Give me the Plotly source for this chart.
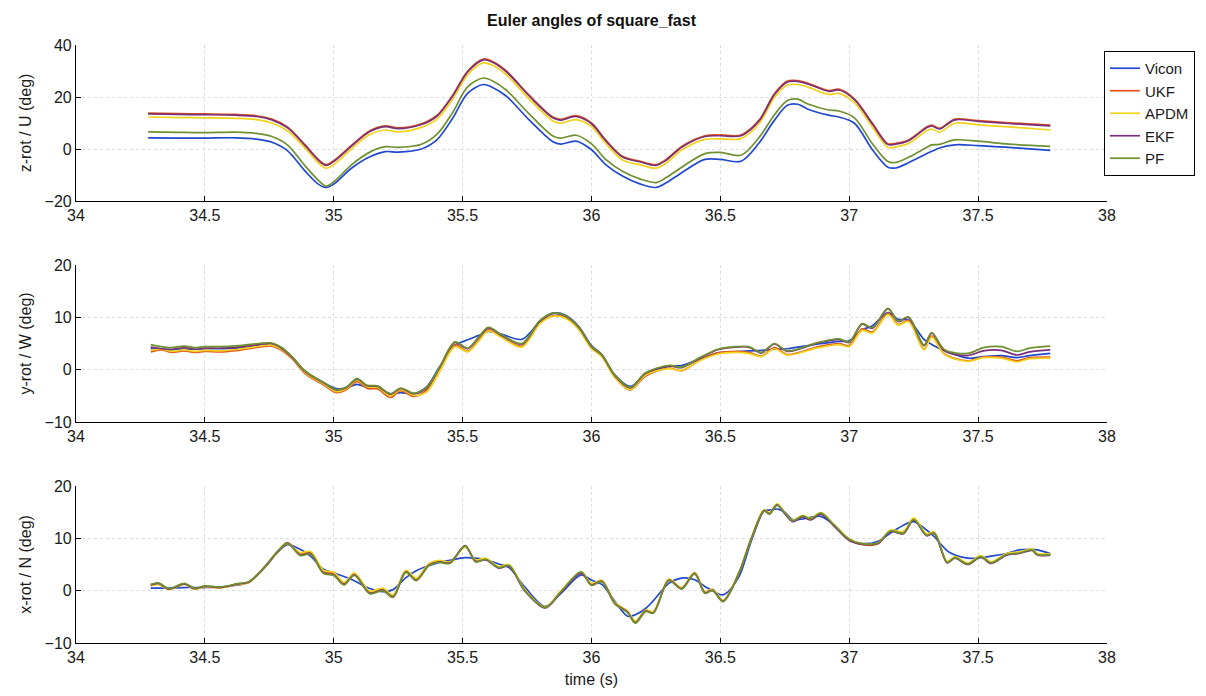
import plotly.graph_objects as go

series_names = ["Vicon", "UKF", "APDM", "EKF", "PF"]
series_colors = ["#2148d0", "#e0561c", "#f2d21a", "#7b2f78", "#6f9030"]

# ---------- top panel: z-rot / U ----------
t_z = [34.28, 34.40, 34.50, 34.62, 34.70, 34.76, 34.82, 34.89, 34.94, 34.97, 35.00, 35.07,
       35.14, 35.20, 35.25, 35.34, 35.40, 35.46, 35.52, 35.58, 35.62, 35.67, 35.76, 35.85,
       35.88, 35.94, 36.00, 36.055, 36.12, 36.19, 36.25, 36.29, 36.35, 36.44, 36.50, 36.58,
       36.65, 36.71, 36.76, 36.80, 36.84, 36.92, 36.96, 37.02, 37.09, 37.15, 37.18, 37.23,
       37.30, 37.32, 37.35, 37.41, 37.50, 37.62, 37.78]
z_vicon = [4.3, 4.2, 4.2, 4.3, 3.8, 2.6, -0.6, -8.6, -13.5, -14.8, -13.5, -7.3,
           -3.0, -1.0, -1.2, 0.0, 3.5, 11.6, 21.5, 24.8, 23.5, 20.3, 11.0, 2.8,
           1.9, 3.0, -0.3, -6.0, -10.4, -13.5, -14.8, -13.0, -9.1, -4.0, -4.0, -4.7,
           2.3, 11.1, 16.8, 17.2, 15.3, 13.0, 12.3, 9.9, -0.3, -7.0, -7.3, -5.3,
           -1.8, -0.9, 0.4, 1.6, 1.3, 0.6, -0.5]
z_ukf = [13.8, 13.6, 13.5, 13.3, 12.8, 11.5, 8.5, 1.5, -4.0, -6.0, -4.5, 1.5,
         7.0, 8.9, 8.1, 9.7, 12.9, 20.5, 30.0, 34.6, 33.5, 30.0, 20.5, 12.3,
         11.4, 12.8, 10.0, 3.5, -2.8, -4.7, -6.0, -4.0, 1.0, 5.1, 5.4, 5.4,
         11.1, 21.3, 26.1, 26.3, 25.3, 22.5, 23.0, 19.3, 9.9, 2.0, 2.2, 3.5,
         8.5, 9.2, 8.0, 11.5, 10.9, 10.1, 9.2]
z_apdm = [12.3, 12.1, 12.0, 11.8, 11.3, 10.0, 7.0, 0.2, -5.3, -7.4, -6.0, 0.2,
          5.6, 7.3, 6.6, 8.3, 11.5, 19.0, 28.6, 33.1, 32.0, 28.5, 19.0, 10.8,
          9.9, 11.3, 8.6, 2.1, -4.2, -6.1, -7.4, -5.4, -0.4, 3.7, 3.9, 4.0,
          9.7, 19.8, 24.6, 24.8, 23.8, 21.0, 21.4, 17.8, 8.4, 0.6, 0.8, 2.1,
          7.0, 7.7, 6.5, 9.9, 9.3, 8.5, 7.3]
z_ekf = [13.5, 13.3, 13.2, 13.0, 12.5, 11.2, 8.2, 1.2, -4.3, -6.3, -4.8, 1.2,
         6.7, 8.6, 7.8, 9.4, 12.6, 20.2, 29.7, 34.3, 33.2, 29.7, 20.2, 12.0,
         11.1, 12.5, 9.7, 3.2, -3.1, -5.0, -6.3, -4.3, 0.7, 4.8, 5.1, 5.1,
         10.8, 21.0, 25.8, 26.0, 25.0, 22.2, 22.7, 19.0, 9.6, 1.7, 1.9, 3.2,
         8.2, 8.9, 7.7, 11.2, 10.6, 9.8, 8.9]
z_pf = [6.6, 6.4, 6.3, 6.5, 6.0, 4.8, 1.6, -6.6, -12.0, -14.3, -12.6, -6.0,
        -1.2, 0.9, 0.6, 1.8, 5.6, 13.8, 24.0, 27.3, 26.0, 22.6, 13.3, 5.0,
        4.2, 5.3, 2.0, -4.0, -8.6, -11.6, -12.9, -11.0, -7.0, -1.8, -1.3, -2.4,
        4.4, 13.2, 18.7, 19.2, 17.3, 15.0, 14.6, 12.0, 2.0, -4.8, -5.2, -3.2,
        0.6, 1.6, 1.8, 3.5, 3.0, 1.9, 1.0]

# ---------- middle panel: y-rot / W ----------
t_w = [34.29, 34.33, 34.37, 34.42, 34.46, 34.50, 34.56, 34.63, 34.71, 34.76, 34.80, 34.84,
       34.89, 34.96, 35.01, 35.05, 35.09, 35.13, 35.17, 35.22, 35.26, 35.31, 35.36, 35.41,
       35.47, 35.52, 35.56, 35.60, 35.65, 35.73, 35.80, 35.85, 35.90, 35.95, 36.00, 36.04,
       36.09, 36.15, 36.21, 36.30, 36.35, 36.42, 36.49, 36.56, 36.61, 36.66, 36.71, 36.76,
       36.88, 36.96, 37.00, 37.05, 37.09, 37.15, 37.19, 37.23, 37.29, 37.32, 37.37, 37.46,
       37.52, 37.59, 37.65, 37.70, 37.78]
w_vicon = [4.0, 3.9, 3.8, 3.9, 3.9, 4.0, 4.0, 4.1, 4.6, 4.8, 3.9, 2.2,
           -0.5, -2.5, -3.6, -3.5, -2.8, -3.4, -3.5, -4.6, -4.4, -4.6, -3.3, 0.5,
           4.6, 5.7, 6.5, 7.3, 6.8, 5.8, 9.2, 10.8, 10.4, 8.3, 4.6, 2.9,
           -1.0, -3.2, -1.0, 0.6, 0.8, 2.0, 3.2, 3.4, 3.6, 3.7, 3.9, 4.0,
           4.9, 5.4, 5.5, 7.6, 8.4, 10.9, 9.6, 9.5, 5.8, 4.8, 3.6, 2.2,
           2.5, 2.7, 2.3, 2.7, 3.1]
w_ukf = [3.4, 3.8, 3.3, 3.6, 3.3, 3.5, 3.4, 3.7, 4.3, 4.5, 3.6, 2.0,
         -0.8, -2.9, -4.4, -3.8, -2.3, -3.6, -3.7, -5.3, -4.0, -5.1, -3.9, 0.2,
         4.8, 3.5, 5.5, 7.6, 6.3, 4.5, 8.9, 10.3, 9.9, 7.9, 4.2, 2.6,
         -1.4, -3.9, -1.2, 0.3, -0.2, 1.8, 3.2, 3.5, 3.3, 2.6, 4.2, 2.9,
         4.4, 5.0, 4.6, 7.8, 7.2, 10.8, 8.6, 9.4, 3.9, 6.4, 3.0, 1.7,
         2.4, 2.4, 1.7, 2.3, 2.4]
w_apdm = [3.7, 3.9, 3.5, 3.8, 3.5, 3.7, 3.6, 3.9, 4.5, 4.7, 3.8, 2.2,
          -0.6, -2.7, -4.2, -3.6, -2.0, -3.3, -3.4, -5.0, -3.8, -4.9, -4.3, -0.5,
          4.4, 3.4, 5.3, 7.4, 6.2, 4.3, 8.8, 10.2, 9.8, 7.7, 4.0, 2.5,
          -1.5, -3.8, -1.0, 0.2, -0.1, 1.7, 3.0, 3.3, 3.1, 2.5, 4.0, 2.8,
          4.2, 4.8, 4.4, 7.5, 7.0, 10.5, 8.5, 9.2, 3.8, 6.2, 2.9, 1.6,
          2.3, 2.2, 1.5, 2.1, 2.2]
w_ekf = [4.3, 4.0, 3.9, 4.2, 3.9, 4.1, 4.1, 4.3, 4.8, 5.0, 4.0, 2.3,
         -0.4, -2.5, -3.9, -3.4, -1.8, -3.1, -3.2, -4.7, -3.6, -4.6, -3.5, 0.3,
         5.2, 4.0, 6.0, 8.0, 6.6, 4.9, 9.3, 10.7, 10.2, 8.1, 4.4, 2.8,
         -1.1, -3.5, -0.7, 0.7, 0.4, 2.2, 3.8, 4.3, 4.3, 3.2, 4.9, 3.5,
         5.1, 5.8, 5.2, 8.7, 7.9, 11.6, 9.2, 10.0, 4.6, 7.0, 3.6, 2.7,
         3.6, 3.7, 2.8, 3.4, 3.8]
w_pf = [4.8, 4.4, 4.2, 4.5, 4.2, 4.4, 4.4, 4.6, 5.0, 5.1, 4.2, 2.4,
        -0.3, -2.4, -3.8, -3.3, -1.7, -3.0, -3.1, -4.6, -3.5, -4.5, -3.4, 0.4,
        5.3, 4.1, 6.1, 8.1, 6.7, 5.0, 9.4, 10.8, 10.3, 8.2, 4.5, 2.9,
        -1.0, -3.4, -0.6, 0.8, 0.5, 2.3, 3.9, 4.4, 4.4, 3.3, 5.0, 3.6,
        5.2, 5.9, 5.3, 8.8, 8.0, 11.7, 9.3, 10.1, 4.7, 7.1, 3.8, 3.1,
        4.2, 4.4, 3.5, 4.1, 4.5]

# ---------- bottom panel: x-rot / N ----------
t_n = [34.29, 34.32, 34.36, 34.42, 34.46, 34.50, 34.56, 34.63, 34.67, 34.73, 34.78, 34.82,
       34.87, 34.91, 34.96, 35.00, 35.04, 35.08, 35.14, 35.19, 35.23, 35.28, 35.32, 35.37,
       35.41, 35.45, 35.51, 35.55, 35.59, 35.64, 35.68, 35.74, 35.82, 35.88, 35.96, 36.00,
       36.04, 36.09, 36.14, 36.17, 36.21, 36.24, 36.30, 36.35, 36.40, 36.44, 36.47, 36.51,
       36.57, 36.62, 36.67, 36.69, 36.72, 36.75, 36.78, 36.82, 36.85, 36.89, 36.94, 37.00,
       37.05, 37.11, 37.16, 37.21, 37.25, 37.30, 37.33, 37.38, 37.41, 37.46, 37.51, 37.55,
       37.61, 37.66, 37.71, 37.73, 37.78]
n_vicon = [0.5, 0.5, 0.5, 0.6, 0.6, 0.6, 0.7, 1.1, 1.6, 4.3, 7.2, 8.8,
           7.9, 6.6, 4.1, 3.4, 2.7, 1.9, 0.4, -0.2, 0.2, 2.5, 3.8, 4.8,
           5.4, 5.8, 6.3, 6.2, 5.9, 5.1, 4.4, 0.8, -3.0, -0.6, 3.0, 2.0,
           1.2, -2.0, -4.9, -4.6, -3.4, -1.9, 1.4, 2.4, 2.1, 0.8, 0.0, -0.8,
           2.5, 9.5, 15.3, 15.4, 15.6, 15.0, 13.6, 13.7, 14.0, 14.2, 12.6, 9.8,
           9.0, 9.4, 11.0, 12.5, 13.2, 11.6, 10.3, 7.6, 6.8, 6.2, 6.3, 6.6,
           7.1, 7.8, 7.9, 7.8, 7.1]
n_ukf = [1.0, 1.3, 0.3, 1.3, 0.3, 0.8, 0.6, 1.3, 1.6, 4.4, 7.3, 9.2,
         7.0, 7.3, 3.6, 3.3, 1.4, 3.2, -0.3, 0.3, -1.0, 3.8, 2.2, 5.1,
         5.7, 5.4, 8.4, 5.8, 6.0, 4.4, 4.8, 0.2, -3.2, -0.2, 3.4, 1.3,
         1.9, -2.3, -4.0, -6.0, -3.8, -4.1, 2.1, 0.5, 3.4, -0.3, 0.2, -1.9,
         3.2, 10.0, 15.4, 14.8, 16.5, 14.8, 13.3, 14.2, 13.6, 14.7, 12.5, 9.7,
         8.8, 8.9, 11.4, 11.0, 13.6, 10.6, 11.0, 5.4, 6.3, 5.1, 6.5, 5.3,
         6.9, 7.2, 7.8, 6.9, 6.9]
n_apdm = [0.9, 1.2, 0.2, 1.2, 0.3, 0.7, 0.5, 1.2, 1.5, 4.3, 7.2, 9.0,
          7.3, 7.5, 3.9, 3.5, 1.6, 3.4, -0.1, 0.5, -0.8, 3.9, 2.4, 5.2,
          5.8, 5.5, 8.3, 5.9, 6.2, 4.6, 5.0, 0.3, -3.1, -0.1, 3.5, 1.4,
          2.0, -2.2, -3.9, -5.8, -3.7, -4.0, 2.2, 0.6, 3.5, -0.2, 0.3, -1.8,
          3.3, 10.1, 15.5, 14.9, 16.6, 14.9, 13.5, 14.4, 13.8, 14.9, 12.7, 9.9,
          9.0, 9.1, 11.6, 11.3, 13.9, 10.9, 11.2, 5.6, 6.5, 5.3, 6.7, 5.5,
          7.1, 7.4, 8.0, 7.1, 7.1]
n_ekf = [1.1, 1.4, 0.3, 1.3, 0.4, 0.8, 0.6, 1.3, 1.6, 4.4, 7.3, 9.1,
         6.8, 7.1, 3.4, 3.0, 1.2, 3.0, -0.5, 0.1, -1.2, 3.6, 2.0, 4.9,
         5.5, 5.3, 8.6, 5.6, 5.9, 4.3, 4.7, 0.0, -3.3, -0.4, 3.3, 1.1,
         1.8, -2.4, -4.1, -6.1, -3.9, -4.2, 2.0, 0.4, 3.3, -0.4, 0.1, -2.0,
         3.1, 9.9, 15.3, 14.7, 16.4, 14.7, 13.2, 14.1, 13.5, 14.6, 12.4, 9.6,
         8.9, 9.0, 11.3, 10.9, 13.5, 10.5, 10.9, 5.3, 6.2, 5.0, 6.4, 5.2,
         6.8, 7.1, 7.7, 6.8, 6.8]
n_pf = [1.2, 1.5, 0.4, 1.4, 0.5, 0.9, 0.7, 1.4, 1.7, 4.5, 7.4, 9.1,
        6.7, 7.0, 3.3, 2.9, 1.1, 2.9, -0.6, 0.0, -1.3, 3.5, 1.9, 4.8,
        5.4, 5.2, 8.5, 5.5, 6.0, 4.4, 4.8, 0.1, -3.2, -0.3, 3.6, 1.0,
        1.7, -2.5, -4.2, -6.2, -4.0, -4.3, 1.9, 0.3, 3.2, -0.5, 0.0, -2.1,
        3.0, 9.8, 15.2, 14.6, 16.3, 14.9, 13.4, 14.3, 13.7, 14.8, 12.6, 9.8,
        9.0, 9.1, 11.4, 11.0, 13.6, 10.6, 11.0, 5.4, 6.3, 5.1, 6.5, 5.3,
        6.9, 7.2, 7.8, 6.9, 6.9]

panels = [
    (t_z, [z_vicon, z_ukf, z_apdm, z_ekf, z_pf], "z-rot / U (deg)", [-20, 40], [-20, 0, 20, 40]),
    (t_w, [w_vicon, w_ukf, w_apdm, w_ekf, w_pf], "y-rot / W (deg)", [-10, 20], [-10, 0, 10, 20]),
    (t_n, [n_vicon, n_ukf, n_apdm, n_ekf, n_pf], "x-rot / N (deg)", [-10, 20], [-10, 0, 10, 20]),
]
x_ticks = [34, 34.5, 35, 35.5, 36, 36.5, 37, 37.5, 38]
x_ticktext = ["34", "34.5", "35", "35.5", "36", "36.5", "37", "37.5", "38"]

W, H = 1206, 696
ml, mr, mt, mb = 68, W - 1099, 37, H - 635
ph = H - mt - mb
spans = [(0, 156), (220, 377), (441, 598)]
domains = [[1 - b / ph, 1 - a / ph] for a, b in spans]

fig = go.Figure()
font_family = "Liberation Sans, Arial, sans-serif"
txt = "#1a1a1a"

for i, (t, ys, ylab, yr, yt) in enumerate(panels):
    ax = "" if i == 0 else str(i + 1)
    for k, y in enumerate(ys):
        fig.add_trace(go.Scatter(
            x=t, y=y, mode="lines", name=series_names[k],
            line=dict(color=series_colors[k], width=1.7, shape="spline", smoothing=0.9),
            xaxis="x" + ax, yaxis="y" + ax, showlegend=(i == 0),
        ))
    common = dict(showline=True, linecolor="black", linewidth=1.2, mirror=False,
                  ticks="inside", ticklen=5, tickcolor="black",
                  showgrid=True, gridcolor="#dcdcdc", griddash="dot", gridwidth=1,
                  zeroline=False, tickfont=dict(size=16, color=txt, family=font_family))
    fig.layout["xaxis" + ax] = dict(
        domain=[0, 1], range=[34, 38], tickvals=x_ticks, ticktext=x_ticktext,
        anchor="y" + ax, **common)
    fig.layout["yaxis" + ax] = dict(
        domain=domains[i], range=yr, tickvals=yt, anchor="x" + ax,
        title=dict(text=ylab, font=dict(size=16, color=txt, family=font_family), standoff=8),
        **common)

fig.layout["xaxis3"].title = dict(text="time (s)", font=dict(size=16, color=txt, family=font_family), standoff=8)

fig.update_layout(
    width=W, height=H,
    margin=dict(l=ml, r=mr, t=mt, b=mb),
    paper_bgcolor="white", plot_bgcolor="white",
    title=dict(text="<b>Euler angles of square_fast</b>", x=(ml + 1099) / 2 / W, xanchor="center",
               y=1 - 12 / H, yanchor="middle", font=dict(size=16, color="#111", family=font_family)),
    legend=dict(x=0.997, y=0.99, xanchor="left", yanchor="top",
                bgcolor="white", bordercolor="black", borderwidth=1,
                font=dict(size=15, color=txt, family=font_family),
                tracegroupgap=0, itemwidth=30),
    font=dict(family=font_family),
)

fig.write_html("out.html")
